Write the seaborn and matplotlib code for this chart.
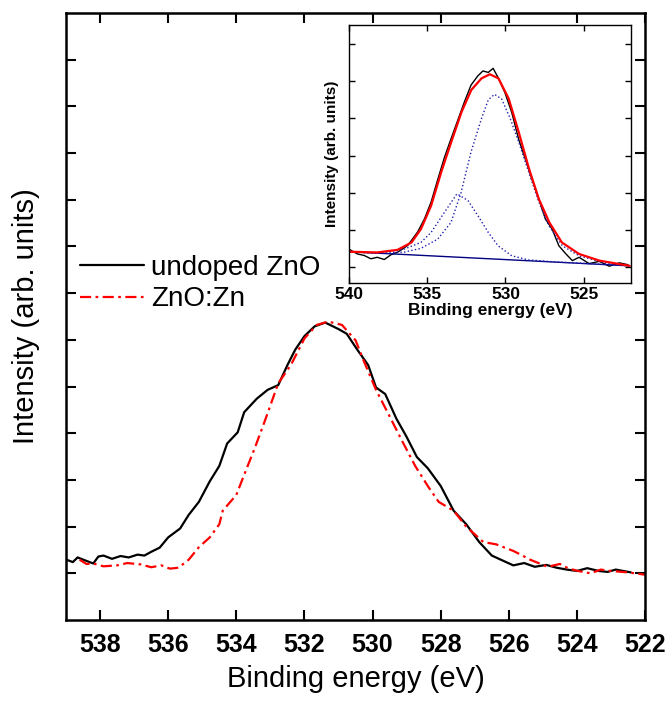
import numpy as np
import pandas as pd
import matplotlib
matplotlib.use("Agg")
import matplotlib.pyplot as plt
import seaborn as sns

# main panel: O 1s spectra
be_undoped = [538.98, 538.8, 538.66, 538.45, 538.2, 538.05, 537.9, 537.65, 537.4, 537.16,
              536.9, 536.7, 536.5, 536.25, 536.0, 535.65, 535.4, 535.1,
              534.78, 534.5, 534.27, 533.96, 533.77, 533.4, 533.08, 532.77, 532.5, 532.27,
              532.0, 531.7, 531.39, 531.0, 530.76, 530.45, 530.13, 529.9, 529.63, 529.3,
              529.0, 528.7, 528.38, 528.0, 527.62, 527.25, 526.87, 526.5, 526.2, 525.87,
              525.55, 525.24, 524.9, 524.6, 524.3, 524.0, 523.7, 523.36, 523.1, 522.86, 522.42]
int_undoped = [1.29, 1.24, 1.34, 1.28, 1.21, 1.36, 1.38, 1.31, 1.37, 1.34,
               1.4, 1.38, 1.46, 1.55, 1.77, 1.96, 2.25, 2.53,
               2.97, 3.3, 3.78, 4.02, 4.45, 4.74, 4.93, 5.03, 5.46, 5.79,
               6.08, 6.29, 6.37, 6.23, 6.13, 5.79, 5.46, 4.98, 4.84, 4.31,
               3.92, 3.49, 3.25, 2.87, 2.34, 2.05, 1.67, 1.38, 1.28, 1.17,
               1.22, 1.14, 1.18, 1.12, 1.08, 1.05, 1.11, 1.05, 1.03, 1.08, 1.02]

be_doped = [538.6, 538.4, 538.2, 537.9, 537.5, 537.2, 536.8, 536.5, 536.2, 535.95, 535.7, 535.4,
            535.1, 534.78, 534.5, 534.4, 534.0, 533.77, 533.46, 533.14, 532.77, 532.4, 532.0,
            531.64, 531.3, 530.9, 530.5, 530.26, 529.9, 529.5, 529.13, 528.75, 528.38, 528.06,
            527.62, 527.25, 526.75, 526.37, 525.87, 525.6, 525.37, 524.86, 524.5, 524.24,
            523.9, 523.6, 523.3, 523.0, 522.5, 522.0]
int_doped = [1.29, 1.2, 1.21, 1.15, 1.17, 1.22, 1.19, 1.13, 1.17, 1.1, 1.12, 1.29,
             1.56, 1.77, 2.05, 2.34, 2.68, 3.11, 3.68, 4.31, 5.07, 5.46, 6.03,
             6.32, 6.39, 6.32, 5.99, 5.55, 4.93, 4.36, 3.83, 3.3, 2.87, 2.53,
             2.34, 2.0, 1.67, 1.62, 1.48, 1.38, 1.29, 1.14, 1.2, 1.1,
             1.04, 1.0, 1.08, 1.05, 1.02, 0.97]

# inset: fitted undoped spectrum
be_raw = [540.0, 539.46, 539.03, 538.6, 538.19, 537.74, 537.31, 536.88, 536.24, 535.6,
          535.17, 534.75, 534.33, 533.9, 533.48, 533.05, 532.62, 532.2, 531.76, 531.44,
          531.1, 530.79, 530.47, 530.04, 529.6, 529.16, 528.73, 528.31, 527.87, 527.45,
          527.02, 526.59, 526.16, 525.73, 525.3, 524.66, 524.01, 523.37, 522.72, 522.18]
int_raw = [1.48, 1.35, 1.31, 1.22, 1.26, 1.2, 1.33, 1.4, 1.58, 1.95,
           2.3, 2.75, 3.35, 3.95, 4.45, 4.95, 5.45, 5.9, 6.15, 6.28,
           6.24, 6.35, 6.1, 5.7, 5.16, 4.44, 3.9, 3.36, 2.83, 2.29,
           2.02, 1.57, 1.36, 1.17, 1.26, 1.09, 1.15, 1.02, 1.11, 1.06]

be_fit = [540.0, 538.2, 536.9, 536.0, 535.4, 534.75, 534.1, 533.46, 532.8, 532.18,
          531.53, 531.0, 530.45, 529.8, 529.16, 528.5, 527.87, 527.2, 526.4, 525.3,
          524.0, 522.07]
int_fit = [1.41, 1.39, 1.46, 1.66, 2.02, 2.65, 3.56, 4.37, 5.18, 5.77,
           6.08, 6.19, 6.08, 5.54, 4.64, 3.65, 2.83, 2.2, 1.66, 1.35,
           1.17, 1.03]

be_comp1 = [540.0, 538.19, 536.47, 535.4, 534.33, 533.48, 532.84, 532.2, 531.53, 531.1,
            530.7, 530.24, 529.7, 529.16, 528.52, 527.87, 527.23, 526.37, 525.3, 523.58, 522.07]
int_comp1 = [1.41, 1.37, 1.4, 1.5, 1.75, 2.2, 3.0, 4.1, 5.0, 5.5,
             5.65, 5.52, 5.0, 4.37, 3.56, 2.75, 2.11, 1.57, 1.3, 1.1, 1.03]

be_comp2 = [540.0, 538.19, 536.47, 535.4, 534.75, 533.9, 533.1, 532.4, 531.76, 531.1,
            530.47, 529.6, 528.52, 527.0, 522.07]
int_comp2 = [1.41, 1.37, 1.48, 1.66, 1.93, 2.47, 2.97, 2.79, 2.38, 1.93,
             1.57, 1.3, 1.19, 1.14, 1.03]

be_bg = [540.0, 522.07]
int_bg = [1.41, 1.03]

main_ticks = [538, 536, 534, 532, 530, 528, 526, 524, 522]
inset_ticks = [540, 535, 530, 525]

sns.set_style("ticks")
plt.rcParams["font.family"] = ["Liberation Sans", "DejaVu Sans"]
plt.rcParams.update({"text.color": "black", "axes.labelcolor": "black",
                     "xtick.color": "black", "ytick.color": "black",
                     "axes.edgecolor": "black"})

fig = plt.figure(figsize=(6.71, 7.02), dpi=100)
ax = fig.add_axes([0.0984, 0.1168, 0.863, 0.8647])

sns.lineplot(x=be_undoped, y=int_undoped, ax=ax, color="black", lw=1.6,
             sort=False, estimator=None, label="undoped ZnO")
sns.lineplot(x=be_doped, y=int_doped, ax=ax, color="red", lw=1.6,
             sort=False, estimator=None, label="ZnO:Zn")
ax.lines[1].set_linestyle((0, (5, 2, 1.2, 2)))

ax.set_xlim(539, 522)
ax.set_ylim(0, 13)
ax.set_xticks(main_ticks)
ax.set_xticklabels([str(t) for t in main_ticks], fontsize=18, fontweight="bold")
ax.set_yticks(range(1, 13))
ax.set_yticklabels([])
ax.tick_params(direction="in", length=7, width=1.5, top=True, right=True, pad=9)
for sp in ax.spines.values():
    sp.set_linewidth(1.8)
ax.set_xlabel("Binding energy (eV)", fontsize=21, labelpad=6)
ax.set_ylabel("Intensity (arb. units)", fontsize=21, labelpad=10)

leg = ax.legend(loc="upper left", bbox_to_anchor=(0.005, 0.62), frameon=False,
                fontsize=20, handlelength=2.3, handletextpad=0.25,
                labelspacing=0.2, borderaxespad=0)

# inset
axi = fig.add_axes([0.520, 0.597, 0.420, 0.367])
sns.lineplot(x=be_raw, y=int_raw, ax=axi, color="black", lw=1.0,
             sort=False, estimator=None)
sns.lineplot(x=be_bg, y=int_bg, ax=axi, color="navy", lw=1.0,
             sort=False, estimator=None)
sns.lineplot(x=be_comp1, y=int_comp1, ax=axi, color="#2020b0", lw=1.0,
             sort=False, estimator=None, linestyle=":")
sns.lineplot(x=be_comp2, y=int_comp2, ax=axi, color="#2020b0", lw=1.0,
             sort=False, estimator=None, linestyle=":")
sns.lineplot(x=be_fit, y=int_fit, ax=axi, color="red", lw=1.6,
             sort=False, estimator=None)

axi.set_xlim(540, 522)
axi.set_ylim(0.57, 7.51)
axi.set_xticks(inset_ticks)
axi.set_xticklabels([str(t) for t in inset_ticks], fontsize=12.5, fontweight="bold")
axi.set_yticks(range(1, 8))
axi.set_yticklabels([])
axi.tick_params(direction="in", length=4, width=1.0, top=True, right=True, pad=3)
for sp in axi.spines.values():
    sp.set_linewidth(1.0)
axi.set_xlabel("Binding energy (eV)", fontsize=12.5, fontweight="bold", labelpad=1)
axi.set_ylabel("Intensity (arb. units)", fontsize=11, fontweight="bold", labelpad=4)

fig.savefig("out.png", dpi=100)
